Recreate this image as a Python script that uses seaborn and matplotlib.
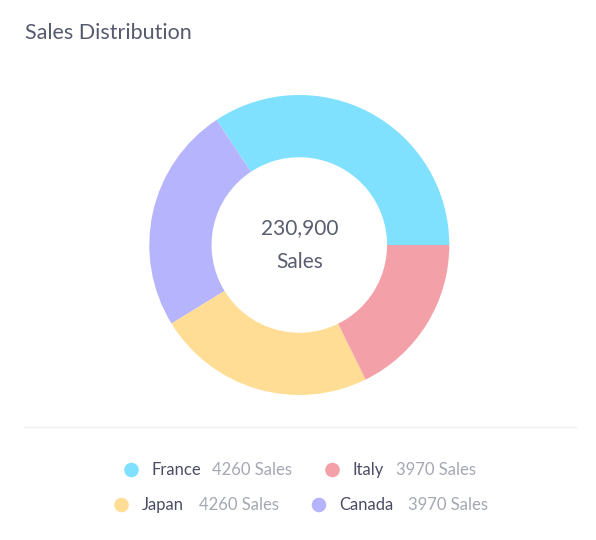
import matplotlib
matplotlib.use("Agg")
import matplotlib.pyplot as plt
import seaborn as sns

# slice values (counterclockwise from 3 o'clock)
countries = ["France", "Canada", "Japan", "Italy"]
sales = [79200, 56500, 54300, 40900]
colors = ["#80E1FF", "#B6B4FC", "#FFDD94", "#F4A0A8"]
total_label = "230,900"

# legend entries, as printed under the chart
legend_names = ["France", "Italy", "Japan", "Canada"]
legend_values = ["4260 Sales", "3970 Sales", "4260 Sales", "3970 Sales"]
legend_colors = ["#80E1FF", "#F4A0A8", "#FFDD94", "#B6B4FC"]

sns.set_theme(style="white")
plt.rcParams["font.family"] = ["Lato", "DejaVu Sans"]

W, H = 596, 540
fig = plt.figure(figsize=(W / 100, H / 100), dpi=100)
fig.patch.set_facecolor("white")

# overlay axes in pixel coordinates for title / separator / legend
ov = fig.add_axes([0, 0, 1, 1])
ov.set_xlim(0, W)
ov.set_ylim(H, 0)
ov.axis("off")

ov.text(25, 33, "Sales Distribution", fontsize=15.5, color="#555A6E", va="center", ha="left")
ov.plot([24, 576], [427, 427], color="#EEEEEE", lw=1)

# donut
cx, cy, r = 299.3, 245, 150
ax = fig.add_axes([(cx - r) / W, 1 - (cy + r) / H, 2 * r / W, 2 * r / H])
ax.pie(sales, colors=colors, startangle=0, counterclock=True,
       wedgeprops=dict(width=0.415, edgecolor="none"), radius=1)
ax.set_xlim(-1, 1)
ax.set_ylim(-1, 1)
ax.text(0, 0.11, total_label, ha="center", va="center", fontsize=15, color="#5A5D70")
ax.text(0, -0.11, "Sales", ha="center", va="center", fontsize=15, color="#5A5D70")

# legend, two rows of two
marker_x = [131.5, 332.5, 121.5, 319]
row_y = [470, 470, 505, 505]
value_gap = [61, 44, 57.5, 69]
for name, val, col, mx, my, gap in zip(legend_names, legend_values, legend_colors,
                                       marker_x, row_y, value_gap):
    ov.scatter([mx], [my], s=110, color=col, edgecolor="none")
    ov.text(mx + 20, my, name, fontsize=12, color="#4A4D63", va="center", ha="left")
    ov.text(mx + 20 + gap, my, val, fontsize=12, color="#A5A8B3", va="center", ha="left")

fig.savefig("out.png", dpi=100, facecolor="white")
